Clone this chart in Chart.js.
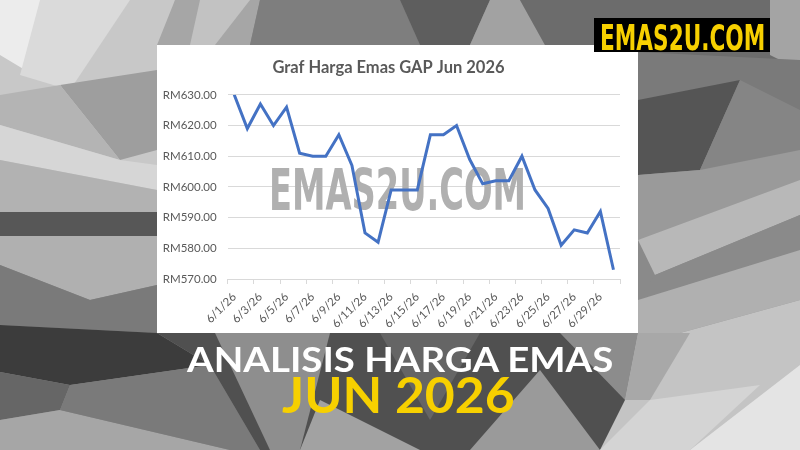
<!DOCTYPE html>
<html>
<head>
<meta charset="utf-8">
<script src="https://cdn.jsdelivr.net/npm/chart.js@4.4.1/dist/chart.umd.min.js"></script>
<style>
  html, body { margin: 0; padding: 0; }
  body { width: 800px; height: 450px; position: relative; overflow: hidden; background: #888; }
  #bg { position: absolute; left: 0; top: 0; }
  #panel { position: absolute; left: 157px; top: 45px; width: 481px; height: 288px; background: #fff; }
  #logo { position: absolute; left: 594px; top: 18px; width: 176px; height: 34px; background: #000; }
  .txt { position: absolute; white-space: nowrap; transform-origin: 0 0; line-height: 1; }
  #logoText { left: 600px; top: 17px; font: bold 36px "Liberation Sans Narrow", "DejaVu Sans Condensed", sans-serif; color: #f7d000; }
  #line1 { left: 187px; top: 337px; font: bold 35px Lato, sans-serif; color: #fff; }
  #line2 { left: 282px; top: 365px; font: bold 49px Lato, sans-serif; color: #f7d000; }
</style>
</head>
<body>
<canvas id="bg" width="800" height="450"></canvas>
<div id="panel"><canvas id="hargaChart" width="481" height="288"></canvas></div>
<div id="logo"></div>
<div class="txt" id="logoText" data-w="165">EMAS2U.COM</div>
<div class="txt" id="line1" data-w="426">ANALISIS HARGA EMAS</div>
<div class="txt" id="line2" data-w="233">JUN 2026</div>
<script>
const tarikh = ['6/1/26','6/2/26','6/3/26','6/4/26','6/5/26','6/6/26','6/7/26','6/8/26','6/9/26','6/10/26',
  '6/11/26','6/12/26','6/13/26','6/14/26','6/15/26','6/16/26','6/17/26','6/18/26','6/19/26','6/20/26',
  '6/21/26','6/22/26','6/23/26','6/24/26','6/25/26','6/26/26','6/27/26','6/28/26','6/29/26','6/30/26'];
const harga = [630, 619, 627, 620, 626, 611, 610, 610, 617, 607,
  585, 582, 599, 599, 599, 617, 617, 620, 609, 601,
  602, 602, 610, 599, 593, 581, 586, 585, 592, 573];
const yMin = 570, yMax = 630, yStep = 10;
const tajuk = 'Graf Harga Emas GAP Jun 2026';
const watermark = 'EMAS2U.COM';

// latar belakang kelabu bersegi
const bg = document.getElementById('bg').getContext('2d');
const poli = [
  ['#8a8a8a', [[0,0],[800,0],[800,450],[0,450]]],
  // kiri atas
  ['#c8c8c8', [[0,0],[175,0],[157,200],[0,215]]],
  ['#ececec', [[0,0],[70,0],[25,70],[0,55]]],
  ['#dadada', [[40,0],[130,0],[70,90],[20,75]]],
  ['#9e9e9e', [[60,85],[157,70],[157,150],[120,160]]],
  ['#b4b4b4', [[0,95],[60,85],[120,160],[0,125]]],
  ['#d6d6d6', [[0,125],[120,160],[157,165],[157,190],[0,160]]],
  ['#b2b2b2', [[0,160],[157,190],[157,212],[0,212]]],
  // atas tengah
  ['#a6a6a6', [[175,0],[260,0],[250,45],[157,45]]],
  ['#c2c2c2', [[200,0],[250,0],[215,45],[190,45]]],
  ['#7e7e7e', [[260,0],[400,0],[420,45],[250,45]]],
  ['#5e5e5e', [[400,0],[490,0],[470,45],[420,45]]],
  ['#a2a2a2', [[490,0],[520,0],[545,45],[470,45]]],
  ['#6c6c6c', [[520,0],[800,0],[800,60],[700,60],[545,45]]],
  ['#a4a4a4', [[770,0],[800,0],[800,70],[770,55]]],
  // kanan
  ['#7a7a7a', [[638,52],[800,60],[800,110],[638,100]]],
  ['#555555', [[638,100],[740,80],[700,170],[638,175]]],
  ['#858585', [[740,80],[800,110],[800,175],[700,170]]],
  ['#9a9a9a', [[638,175],[700,170],[800,150],[800,200],[638,240]]],
  ['#b8b8b8', [[638,240],[800,180],[800,215],[655,275]]],
  ['#8a8a8a', [[655,275],[800,215],[800,250],[638,300]]],
  ['#b0b0b0', [[638,300],[800,250],[800,300],[680,333],[638,333]]],
  // kiri bawah
  ['#575757', [[0,212],[157,212],[157,236],[0,236]]],
  ['#b0b0b0', [[0,236],[157,236],[157,285],[90,300],[0,265]]],
  ['#7a7a7a', [[0,265],[90,300],[157,285],[157,333],[0,325]]],
  ['#3c3c3c', [[0,325],[157,333],[210,365],[70,385],[0,372]]],
  ['#666666', [[0,372],[70,385],[60,410],[0,420]]],
  ['#a6a6a6', [[0,420],[60,410],[230,450],[0,450]]],
  ['#7a7a7a', [[60,410],[70,385],[210,365],[260,450],[230,450]]],
  // bawah tengah
  ['#505050', [[157,333],[638,333],[638,450],[260,450],[210,365]]],
  ['#8e8e8e', [[215,333],[330,333],[300,450],[270,450]]],
  ['#a2a2a2', [[300,450],[320,400],[420,450]]],
  ['#656565', [[380,333],[480,333],[430,420]]],
  ['#9a9a9a', [[470,450],[540,370],[600,450]]],
  ['#8c8c8c', [[560,333],[638,333],[625,400]]],
  // kanan bawah
  ['#c4c4c4', [[638,333],[680,333],[800,300],[800,370],[700,450],[600,450],[625,400]]],
  ['#a8a8a8', [[638,333],[690,333],[650,400],[625,400]]],
  ['#e4e4e4', [[690,450],[800,365],[800,450]]],
  ['#d4d4d4', [[650,400],[760,385],[690,450],[600,450]]]
];
poli.forEach(([c, pts]) => {
  bg.fillStyle = c;
  bg.beginPath();
  pts.forEach(([x, y], i) => i ? bg.lineTo(x, y) : bg.moveTo(x, y));
  bg.closePath();
  bg.fill();
});

// teks dipanjangkan ikut lebar asal
document.querySelectorAll('.txt').forEach(el => {
  const w = parseFloat(el.dataset.w);
  el.style.transform = `scaleX(${w / el.scrollWidth})`;
});

const watermarkPlugin = {
  id: 'watermark',
  beforeDatasetsDraw(chart) {
    const ctx = chart.ctx;
    ctx.save();
    ctx.font = 'bold 57px "Liberation Sans Narrow", "DejaVu Sans Condensed", sans-serif';
    ctx.fillStyle = '#b0b0b0';
    ctx.textBaseline = 'alphabetic';
    const w = ctx.measureText(watermark).width;
    ctx.translate(112, 165);
    ctx.scale(257 / w, 1);
    ctx.fillText(watermark, 0, 0);
    ctx.restore();
  }
};

const ctx = document.getElementById('hargaChart').getContext('2d');
new Chart(ctx, {
  type: 'line',
  data: {
    labels: tarikh,
    datasets: [{
      label: 'Harga',
      data: harga,
      borderColor: '#4472c4',
      borderWidth: 3,
      pointRadius: 0,
      tension: 0,
      fill: false
    }]
  },
  options: {
    responsive: false,
    animation: false,
    devicePixelRatio: 1,
    layout: { padding: { left: 0, right: 18, top: 0, bottom: 0 } },
    plugins: {
      legend: { display: false },
      tooltip: { enabled: false },
      title: {
        display: true,
        text: tajuk,
        color: '#595959',
        font: { family: 'Lato', size: 16.5, weight: 'bold' },
        padding: { top: 13, bottom: 17 }
      }
    },
    scales: {
      x: {
        offset: true,
        grid: {
          offset: true,
          drawOnChartArea: false,
          drawTicks: true,
          tickLength: 5,
          color: (c) => (c.index === undefined || c.index % 2 === 0) ? '#d9d9d9' : 'rgba(0,0,0,0)'
        },
        border: { color: '#d9d9d9', width: 1 },
        ticks: {
          autoSkip: false,
          maxRotation: 45,
          minRotation: 45,
          padding: 6,
          color: '#595959',
          font: { family: 'Lato', size: 11.5 },
          callback: (v, i) => i % 2 === 0 ? tarikh[i] : ''
        },
        afterFit: (s) => { s.height = 54; }
      },
      y: {
        min: yMin,
        max: yMax,
        ticks: {
          stepSize: yStep,
          padding: 11,
          color: '#595959',
          font: { family: 'Lato', size: 11.5 },
          callback: (v) => 'RM' + v.toFixed(2)
        },
        grid: { color: '#d9d9d9', drawTicks: false },
        border: { display: false },
        afterFit: (s) => { s.width = 70.7; }
      }
    }
  },
  plugins: [watermarkPlugin]
});
</script>
</body>
</html>
